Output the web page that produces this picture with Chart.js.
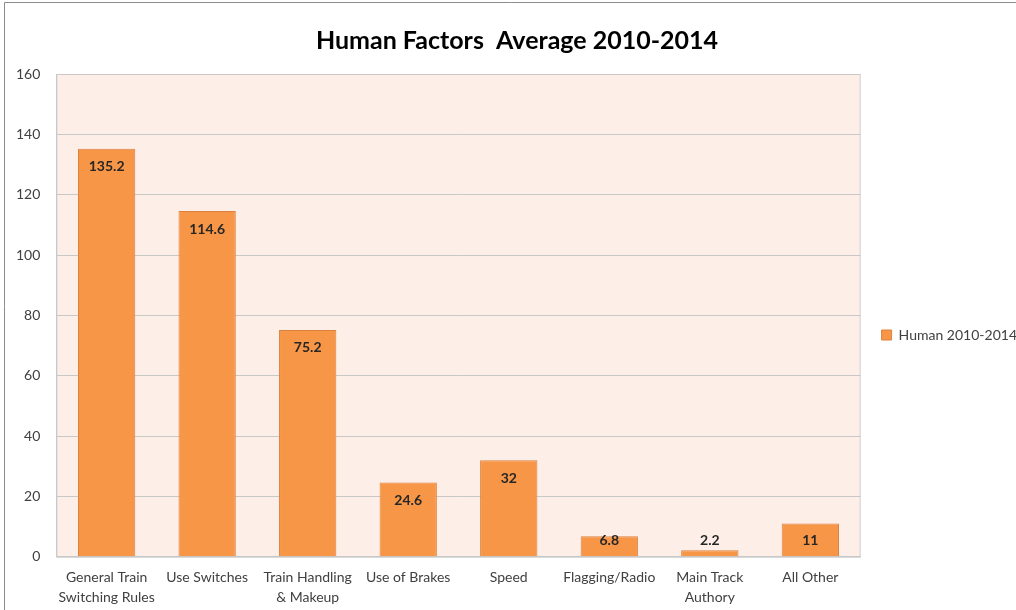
<!DOCTYPE html>
<html>
<head>
<meta charset="utf-8">
<script src="https://cdn.jsdelivr.net/npm/chart.js@4.4.1/dist/chart.umd.min.js"></script>
<style>
  html, body { margin: 0; padding: 0; background: #ffffff; }
  #wrap { position: relative; width: 1016px; height: 610px; }
  canvas { display: block; }
</style>
</head>
<body>
<div id="wrap"><canvas id="c" width="1016" height="610"></canvas></div>
<script>
const chartTitle = "Human Factors  Average 2010-2014";
const seriesName = "Human 2010-2014";
const categories = [
  ["General Train", "Switching Rules"],
  "Use Switches",
  ["Train Handling", "& Makeup"],
  "Use of Brakes",
  "Speed",
  "Flagging/Radio",
  ["Main Track", "Authory"],
  "All Other"
];
const values = [135.2, 114.6, 75.2, 24.6, 32, 6.8, 2.2, 11];
const yTicks = [0, 20, 40, 60, 80, 100, 120, 140, 160];

const FONT = "Lato, 'Open Sans', 'DejaVu Sans', sans-serif";

const shiftBlocks = {
  id: 'shiftBlocks',
  afterLayout(chart) {
    if (chart.titleBlock) { chart.titleBlock.left += 10; chart.titleBlock.right += 10; }
    if (chart.legend) {
      chart.legend.left += 13; chart.legend.right += 13;
      chart.legend.top += 26; chart.legend.bottom += 26;
    }
  }
};

const plotBg = {
  id: 'plotBg',
  beforeDraw(chart) {
    const { ctx, chartArea: a } = chart;
    ctx.save();
    ctx.strokeStyle = '#8c8c8c';
    ctx.lineWidth = 1;
    ctx.beginPath();
    ctx.moveTo(4.5, 1016);
    ctx.lineTo(4.5, 2.5);
    ctx.lineTo(1016, 2.5);
    ctx.stroke();
    ctx.fillStyle = '#fdeee8';
    ctx.fillRect(a.left, a.top, a.right - a.left, a.bottom - a.top);
    ctx.strokeStyle = '#d0d0d0';
    ctx.strokeRect(a.left + 0.5, a.top + 0.5, a.right - a.left - 1, a.bottom - a.top);
    ctx.restore();
  }
};

const dataLabels = {
  id: 'dataLabels',
  afterDatasetsDraw(chart) {
    const { ctx } = chart;
    const meta = chart.getDatasetMeta(0);
    const bottom = chart.scales.y.getPixelForValue(0);
    ctx.save();
    ctx.font = "bold 14px " + FONT;
    ctx.fillStyle = '#262626';
    ctx.textAlign = 'center';
    ctx.textBaseline = 'middle';
    meta.data.forEach((bar, i) => {
      const y = Math.min(bar.y + 18, bottom - 16);
      ctx.fillText(String(values[i]), bar.x, y);
    });
    ctx.restore();
  }
};

new Chart(document.getElementById('c'), {
  type: 'bar',
  data: {
    labels: categories,
    datasets: [{
      label: seriesName,
      data: values,
      backgroundColor: '#f79646',
      borderColor: '#dc8040',
      borderWidth: 1,
      categoryPercentage: 1,
      barPercentage: 0.57
    }]
  },
  options: {
    responsive: false,
    animation: false,
    layout: { padding: { left: 0, right: 2, top: 8, bottom: 0 } },
    plugins: {
      title: {
        display: true,
        text: chartTitle,
        color: '#000000',
        font: { family: FONT, size: 25, weight: 'bold' },
        padding: { top: 18, bottom: 18 }
      },
      legend: {
        position: 'right',
        labels: {
          boxWidth: 10,
          boxHeight: 10,
          color: '#404040',
          font: { family: FONT, size: 14 },
          padding: 8
        }
      },
      tooltip: { enabled: false }
    },
    scales: {
      x: {
        grid: { display: false },
        border: { color: '#c8c8c8' },
        ticks: {
          color: '#404040',
          font: { family: FONT, size: 14, lineHeight: 1.4 },
          maxRotation: 0,
          autoSkip: false,
          padding: 3
        }
      },
      y: {
        min: 0,
        max: 160,
        afterBuildTicks(scale) { scale.ticks = yTicks.map(v => ({ value: v })); },
        grid: { color: '#c8c8c8', drawTicks: true, tickLength: 0 },
        border: { color: '#c8c8c8' },
        ticks: {
          color: '#404040',
          font: { family: FONT, size: 14 },
          padding: 16
        }
      }
    }
  },
  plugins: [shiftBlocks, plotBg, dataLabels]
});
</script>
</body>
</html>
